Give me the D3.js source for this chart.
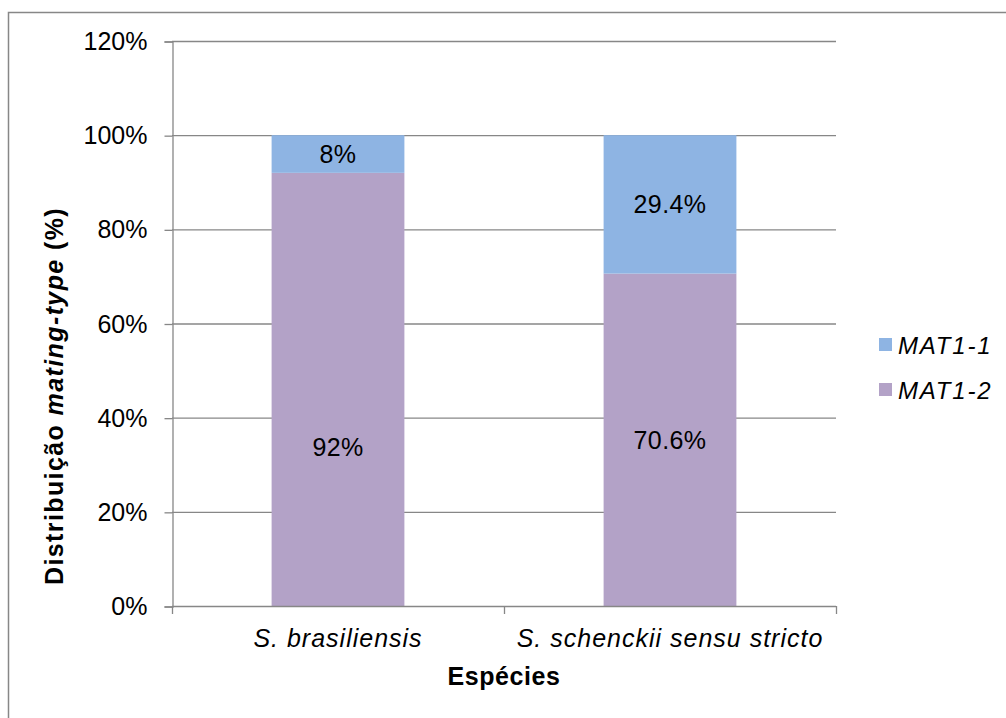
<!DOCTYPE html>
<html>
<head>
<meta charset="utf-8">
<script src="https://cdn.jsdelivr.net/npm/d3@7"></script>
<style>
  html, body { margin: 0; padding: 0; background: #fff; }
  svg { display: block; font-family: "Liberation Sans", Arial, sans-serif; }
</style>
</head>
<body>
<svg id="chart" width="1006" height="718"></svg>
<script>
// Species on the x axis
const categories = ["S. brasiliensis", "S. schenckii sensu stricto"];
// Mating-type share per species (%)
const mat12 = [92, 70.6];
const mat11 = [8, 29.4];
// Y axis ticks (%)
const yTicks = [0, 20, 40, 60, 80, 100, 120];
const seriesNames = ["MAT1-1", "MAT1-2"];

const colors = { "MAT1-1": "#8EB4E3", "MAT1-2": "#B3A2C7" };
const gridColor = "#878787";

const svg = d3.select("#chart");

// chart-area frame
svg.append("rect")
  .attr("x", 8.5).attr("y", 12.5)
  .attr("width", 1020).attr("height", 740)
  .attr("fill", "none").attr("stroke", gridColor).attr("stroke-width", 1.5);

const plot = { left: 172, right: 836, top: 41, bottom: 606 };

const x = d3.scaleBand()
  .domain(categories)
  .range([plot.left, plot.right])
  .paddingInner(0.6)
  .paddingOuter(0.3);

const y = d3.scaleLinear()
  .domain([0, 120])
  .range([plot.bottom, plot.top]);

// horizontal gridlines
svg.append("g")
  .selectAll("line")
  .data(yTicks.filter(t => t > 0))
  .join("line")
  .attr("x1", plot.left).attr("x2", plot.right)
  .attr("y1", d => y(d) + 0.5).attr("y2", d => y(d) + 0.5)
  .attr("stroke", gridColor).attr("stroke-width", 1.3);

// stacked data: MAT1-2 at the bottom, MAT1-1 on top
const rows = categories.map((c, i) => ({ cat: c, "MAT1-2": mat12[i], "MAT1-1": mat11[i] }));
const stack = d3.stack().keys(["MAT1-2", "MAT1-1"]);
const layers = stack(rows);

const barG = svg.append("g");
layers.forEach(layer => {
  barG.append("g")
    .selectAll("rect")
    .data(layer)
    .join("rect")
    .attr("x", d => x(d.data.cat))
    .attr("width", x.bandwidth())
    .attr("y", d => y(d[1]))
    .attr("height", d => y(d[0]) - y(d[1]))
    .attr("fill", colors[layer.key]);
});

// value labels; the tall lower segment of the first bar carries its label below centre
const labelFrac = { "MAT1-2": [0.367, 0.5], "MAT1-1": [0.5, 0.5] };
const fmt = v => (Number.isInteger(v) ? v : v.toFixed(1)) + "%";
layers.forEach(layer => {
  svg.append("g")
    .selectAll("text")
    .data(layer)
    .join("text")
    .attr("x", d => x(d.data.cat) + x.bandwidth() / 2)
    .attr("y", (d, i) => y(d[0] + (d[1] - d[0]) * labelFrac[layer.key][i]))
    .attr("text-anchor", "middle")
    .attr("dominant-baseline", "central")
    .attr("font-size", 25)
    .attr("letter-spacing", 0.4)
    .attr("fill", "#000")
    .text(d => fmt(d.data[layer.key]));
});

// y axis
const yAxis = d3.axisLeft(y)
  .tickValues(yTicks)
  .tickSize(8)
  .tickPadding(17)
  .tickFormat(d => d + "%");
const yg = svg.append("g").attr("transform", `translate(${plot.left + 0.5},0.5)`).call(yAxis);
yg.select(".domain").attr("stroke", gridColor).attr("stroke-width", 1.3);
yg.selectAll(".tick line").attr("stroke", gridColor).attr("stroke-width", 1.3);
yg.selectAll(".tick text")
  .attr("font-size", 25)
  .attr("font-family", "'Liberation Sans', Arial, sans-serif")
  .attr("fill", "#000");

// x axis line with ticks at category boundaries
const xg = svg.append("g");
xg.append("line")
  .attr("x1", plot.left).attr("x2", plot.right)
  .attr("y1", plot.bottom + 0.5).attr("y2", plot.bottom + 0.5)
  .attr("stroke", gridColor).attr("stroke-width", 1.3);
const bounds = [plot.left, ...categories.slice(1).map(c => x(c) - x.step() * x.paddingInner() / 2), plot.right];
xg.selectAll("line.tk")
  .data(bounds)
  .join("line")
  .attr("class", "tk")
  .attr("x1", d => d + 0.5).attr("x2", d => d + 0.5)
  .attr("y1", plot.bottom).attr("y2", plot.bottom + 8)
  .attr("stroke", gridColor).attr("stroke-width", 1.3);
xg.selectAll("text")
  .data(categories)
  .join("text")
  .attr("x", d => x(d) + x.bandwidth() / 2)
  .attr("y", 647)
  .attr("text-anchor", "middle")
  .attr("font-size", 25)
  .attr("letter-spacing", 1)
  .attr("font-style", "italic")
  .text(d => d);

// axis titles
svg.append("text")
  .attr("x", 504).attr("y", 685)
  .attr("text-anchor", "middle")
  .attr("font-size", 25)
  .attr("letter-spacing", 0.6)
  .attr("font-weight", "bold")
  .text("Espécies");

const yt = svg.append("text")
  .attr("transform", "translate(63,396) rotate(-90)")
  .attr("text-anchor", "middle")
  .attr("font-size", 25)
  .attr("letter-spacing", 1.4)
  .attr("font-weight", "bold");
yt.append("tspan").text("Distribuição ");
yt.append("tspan").attr("font-style", "italic").text("mating-type");
yt.append("tspan").text(" (%)");

// legend
const legend = svg.append("g");
const legendY = [345, 390];
seriesNames.forEach((s, i) => {
  legend.append("rect")
    .attr("x", 879).attr("y", legendY[i] - 7)
    .attr("width", 13).attr("height", 13)
    .attr("fill", colors[s]);
  legend.append("text")
    .attr("x", 898).attr("y", legendY[i])
    .attr("dominant-baseline", "central")
    .attr("font-size", 24)
    .attr("letter-spacing", 1.8)
    .attr("font-style", "italic")
    .text(s);
});
</script>
</body>
</html>
